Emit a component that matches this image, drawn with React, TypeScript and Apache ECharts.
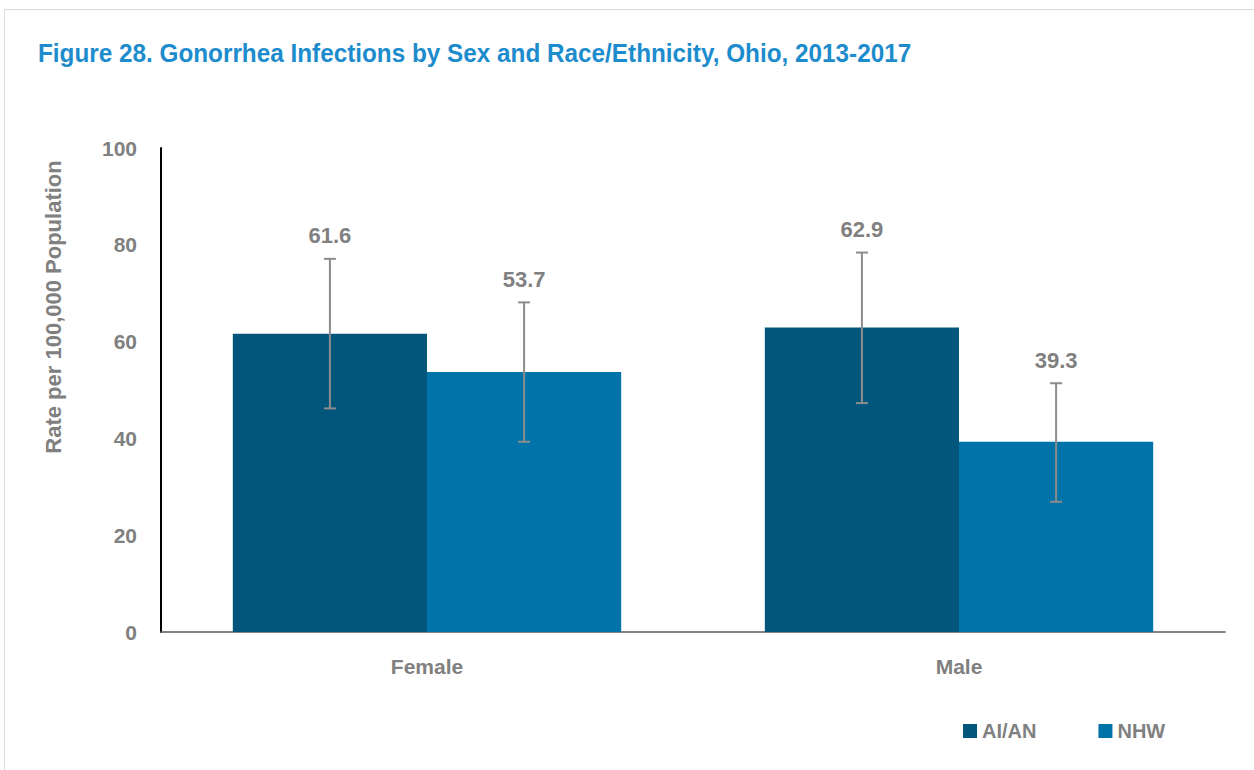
import React, { useEffect, useRef } from "react";
import * as echarts from "echarts";

const categories = ["Female", "Male"];
const seriesNames = ["AI/AN", "NHW"];
const aianValues = [61.6, 62.9];
const nhwValues = [53.7, 39.3];
const aianLow = [46.2, 47.3];
const aianHigh = [77.1, 78.4];
const nhwLow = [39.3, 26.9];
const nhwHigh = [68.1, 51.4];
const yTicks = [0, 20, 40, 60, 80, 100];

const FONT = "'Liberation Sans', Arial, sans-serif";
const GRAY = "#808080";
const DARK = "#03567b";
const LIGHT = "#0073a8";

export default function App() {
  const ref = useRef<HTMLDivElement>(null);
  useEffect(() => {
    if (!ref.current) return;
    const chart = echarts.init(ref.current, undefined, { renderer: "svg" });
    const values = [aianValues, nhwValues];
    const lows = [aianLow, nhwLow];
    const highs = [aianHigh, nhwHigh];
    const errData: any[] = [];
    [0, 1].forEach((s) => {
      categories.forEach((_, i) => {
        errData.push([i, lows[s][i], highs[s][i], s, values[s][i]]);
      });
    });
    const option: any = {
      animation: false,
      backgroundColor: "#ffffff",
      graphic: [
        {
          type: "rect",
          shape: { x: 4.5, y: 9.5, width: 1300, height: 800 },
          style: { fill: "none", stroke: "#d9d9d9", lineWidth: 1 },
          silent: true,
        },
        {
          type: "text",
          x: 38,
          y: 53,
          scaleX: 0.935,
          style: {
            text: "Figure 28. Gonorrhea Infections by Sex and Race/Ethnicity, Ohio, 2013-2017",
            font: `bold 26px ${FONT}`,
            fill: "#1d8ccd",
            textAlign: "left",
            textVerticalAlign: "middle",
          },
        },
        {
          type: "text",
          x: 53,
          y: 307,
          rotation: Math.PI / 2,
          style: {
            text: "Rate per 100,000 Population",
            font: `bold 22px ${FONT}`,
            fill: GRAY,
            textAlign: "center",
            textVerticalAlign: "middle",
          },
        },
      ],
      legend: {
        left: 958,
        top: 716,
        icon: "rect",
        itemWidth: 14,
        itemHeight: 14,
        itemGap: 62,
        data: seriesNames,
        textStyle: { color: GRAY, fontFamily: FONT, fontWeight: "bold", fontSize: 20, padding: [0, 0, 0, 0] },
      },
      grid: { left: 161, right: 29, top: 148, bottom: 138, containLabel: false },
      xAxis: {
        type: "category",
        data: categories,
        axisLine: { show: true, lineStyle: { color: "#595959", width: 1.5 } },
        axisTick: { show: false },
        axisLabel: { color: GRAY, fontFamily: FONT, fontWeight: "bold", fontSize: 21, margin: 24 },
      },
      yAxis: {
        type: "value",
        min: yTicks[0],
        max: yTicks[yTicks.length - 1],
        interval: 20,
        axisLine: { show: true, lineStyle: { color: "#000000", width: 2 } },
        axisTick: { show: false },
        splitLine: { show: false },
        axisLabel: { color: GRAY, fontFamily: FONT, fontWeight: "bold", fontSize: 21, margin: 24 },
      },
      series: [
        {
          name: seriesNames[0],
          type: "bar",
          data: aianValues,
          itemStyle: { color: DARK },
          barGap: "0%",
          barCategoryGap: "27%",
        },
        {
          name: seriesNames[1],
          type: "bar",
          data: nhwValues,
          itemStyle: { color: LIGHT },
          barGap: "0%",
          barCategoryGap: "27%",
        },
        {
          type: "custom",
          data: errData,
          z: 10,
          encode: { x: 0, y: [1, 2] },
          renderItem: (params: any, api: any) => {
            const cat = api.value(0);
            const low = api.value(1);
            const high = api.value(2);
            const s = api.value(3);
            const v = api.value(4);
            const size = api.size([1, 0])[0];
            const off = (s === 0 ? -1 : 1) * size * 0.1825;
            const pH = api.coord([cat, high]);
            const pL = api.coord([cat, low]);
            const x = pH[0] + off;
            const cap = 6;
            const st = { stroke: "#8c8c8c", lineWidth: 2 };
            return {
              type: "group",
              children: [
                { type: "line", shape: { x1: x, y1: pH[1], x2: x, y2: pL[1] }, style: st },
                { type: "line", shape: { x1: x - cap, y1: pH[1], x2: x + cap, y2: pH[1] }, style: st },
                { type: "line", shape: { x1: x - cap, y1: pL[1], x2: x + cap, y2: pL[1] }, style: st },
                {
                  type: "text",
                  style: {
                    text: v.toFixed(1),
                    x: x,
                    y: pH[1] - 23,
                    textAlign: "center",
                    textVerticalAlign: "middle",
                    font: `bold 22px ${FONT}`,
                    fill: GRAY,
                  },
                },
              ],
            };
          },
        },
      ],
    };
    chart.setOption(option);
    return () => chart.dispose();
  }, []);
  return (
    <div style={{ position: "fixed", left: 0, top: 0, width: 1254, height: 770, background: "#fff" }}>
      <div ref={ref} style={{ width: 1254, height: 770 }} />
    </div>
  );
}
